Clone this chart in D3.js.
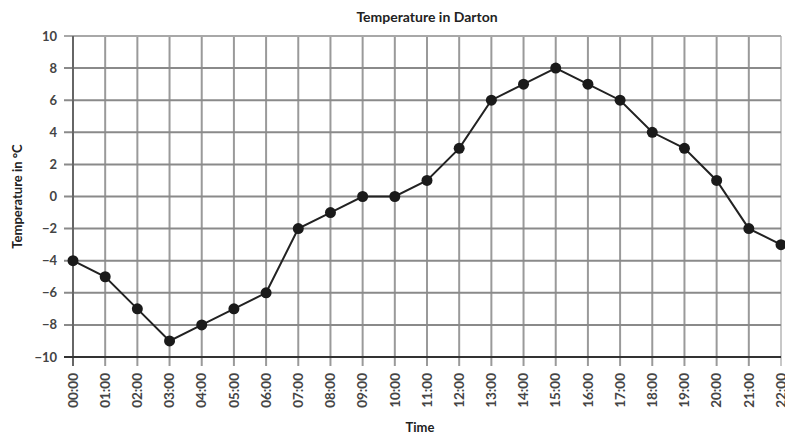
<!DOCTYPE html>
<html>
<head>
<meta charset="utf-8">
<script src="https://cdn.jsdelivr.net/npm/d3@7"></script>
<style>
  body { margin: 0; background: #fff; }
  text { font-family: Lato, "DejaVu Sans", sans-serif; }
</style>
</head>
<body>
<svg id="chart" width="785" height="437"></svg>
<script>
var hours = ["00:00","01:00","02:00","03:00","04:00","05:00","06:00","07:00","08:00","09:00","10:00","11:00",
  "12:00","13:00","14:00","15:00","16:00","17:00","18:00","19:00","20:00","21:00","22:00"];
var temps = [-4, -5, -7, -9, -8, -7, -6, -2, -1, 0, 0, 1, 3, 6, 7, 8, 7, 6, 4, 3, 1, -2, -3];
var yTicks = [-10, -8, -6, -4, -2, 0, 2, 4, 6, 8, 10];
var yTickLabels = ["\u221210", "\u22128", "\u22126", "\u22124", "\u22122", "0", "2", "4", "6", "8", "10"];

(function() {
  var svg = d3.select("#chart");
  var pLeft = 73, pRight = 781, pTop = 36, pBottom = 357;

  var x = d3.scalePoint().domain(hours).range([pLeft, pRight]);
  var y = d3.scaleLinear().domain([-10, 10]).range([pBottom, pTop]);

  // vertical grid
  svg.append("g").selectAll("line").data(hours).enter().append("line")
    .attr("x1", function(d) { return x(d); }).attr("x2", function(d) { return x(d); })
    .attr("y1", pTop).attr("y2", pBottom + 9)
    .attr("stroke", function(d, i) { return i === hours.length - 1 ? "#c8c8c8" : "#9a9a9a"; })
    .attr("stroke-width", 2);

  // horizontal grid
  svg.append("g").selectAll("line").data(yTicks).enter().append("line")
    .attr("x1", pLeft - 9).attr("x2", pRight)
    .attr("y1", function(d) { return y(d); }).attr("y2", function(d) { return y(d); })
    .attr("stroke", function(d) { return d === 10 ? "#a8a8a8" : "#8a8a8a"; })
    .attr("stroke-width", 2);

  // axis lines
  svg.append("line").attr("x1", pLeft).attr("x2", pLeft).attr("y1", pTop).attr("y2", pBottom + 9)
    .attr("stroke", "#666").attr("stroke-width", 2);
  svg.append("line").attr("x1", pLeft - 9).attr("x2", pRight).attr("y1", pBottom).attr("y2", pBottom)
    .attr("stroke", "#333").attr("stroke-width", 2);

  // y labels
  svg.append("g").selectAll("text").data(yTicks).enter().append("text")
    .attr("x", 57).attr("y", function(d) { return y(d); })
    .attr("dy", "0.35em").attr("text-anchor", "end")
    .attr("font-size", 13).attr("font-weight", "bold").attr("fill", "#444")
    .text(function(d, i) { return yTickLabels[i]; });

  // x labels
  svg.append("g").selectAll("text").data(hours).enter().append("text")
    .attr("transform", function(d) { return "translate(" + x(d) + ",373) rotate(-90)"; })
    .attr("dy", "0.35em").attr("text-anchor", "end")
    .attr("font-size", 13.5).attr("font-weight", "bold").attr("fill", "#444")
    .text(function(d) { return d; });

  // line + markers
  var line = d3.line()
    .x(function(d, i) { return x(hours[i]); })
    .y(function(d) { return y(d); });
  svg.append("path").datum(temps).attr("d", line)
    .attr("fill", "none").attr("stroke", "#222").attr("stroke-width", 2);

  svg.append("g").selectAll("circle").data(temps).enter().append("circle")
    .attr("cx", function(d, i) { return x(hours[i]); })
    .attr("cy", function(d) { return y(d); })
    .attr("r", 5.5).attr("fill", "#1a1a1a");

  // titles
  svg.append("text").attr("x", (pLeft + pRight) / 2).attr("y", 22)
    .attr("text-anchor", "middle").attr("font-size", 14).attr("font-weight", "bold").attr("fill", "#222")
    .text("Temperature in Darton");
  svg.append("text").attr("x", 420).attr("y", 432)
    .attr("text-anchor", "middle").attr("font-size", 13).attr("font-weight", "bold").attr("fill", "#222")
    .text("Time");
  svg.append("text").attr("transform", "translate(22," + ((pTop + pBottom) / 2) + ") rotate(-90)")
    .attr("text-anchor", "middle").attr("font-size", 13).attr("font-weight", "bold").attr("fill", "#222")
    .text("Temperature in \u00b0C");
})();
</script>
</body>
</html>
